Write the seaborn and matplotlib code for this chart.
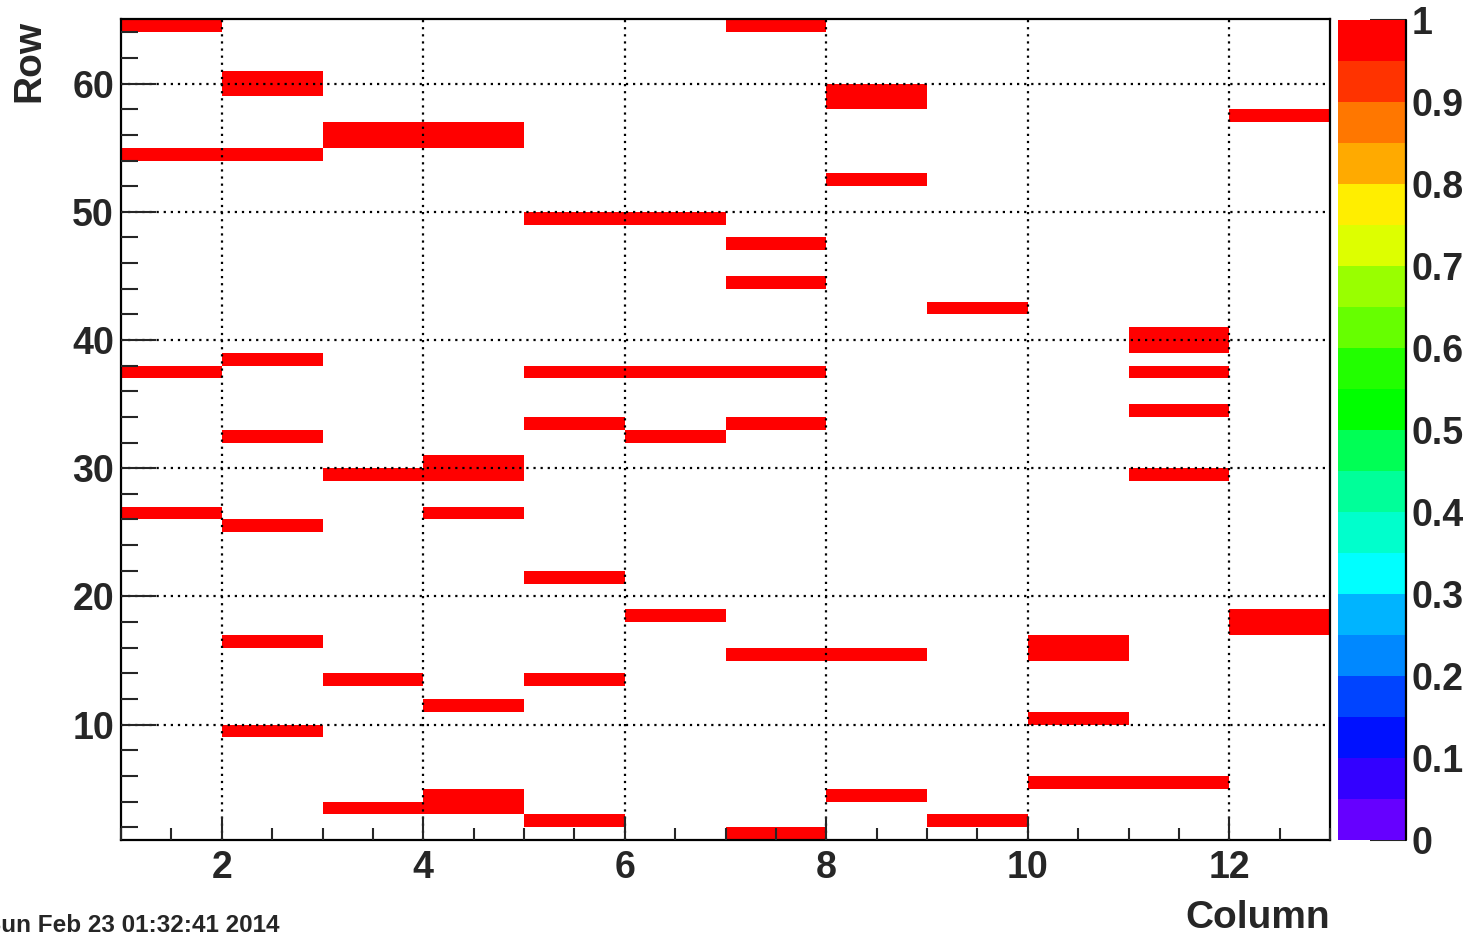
import numpy as np
import pandas as pd
import matplotlib
matplotlib.use("Agg")
import matplotlib.pyplot as plt
from matplotlib.colors import ListedColormap
from matplotlib.ticker import MultipleLocator, FixedLocator
import seaborn as sns

# Treffer je Spalte (Column) -> Liste der Zeilen (Row), alle mit Inhalt 1
hit_col_1 = [64, 54, 37, 26]
hit_col_2 = [60, 59, 54, 38, 32, 25, 16, 9]
hit_col_3 = [56, 55, 29, 13, 3]
hit_col_4 = [56, 55, 30, 29, 26, 11, 4, 3]
hit_col_5 = [49, 37, 33, 21, 13, 2]
hit_col_6 = [49, 37, 32, 18]
hit_col_7 = [64, 47, 44, 37, 33, 15, 1]
hit_col_8 = [59, 58, 52, 15, 4]
hit_col_9 = [42, 2]
hit_col_10 = [16, 15, 10, 5]
hit_col_11 = [40, 39, 37, 34, 29, 5]
hit_col_12 = [57, 18, 17]
hits = [hit_col_1, hit_col_2, hit_col_3, hit_col_4, hit_col_5, hit_col_6,
        hit_col_7, hit_col_8, hit_col_9, hit_col_10, hit_col_11, hit_col_12]

columns = list(range(1, 13))   # Bin-Untergrenzen 1..12
rows = list(range(1, 65))      # Bin-Untergrenzen 1..64
x_labels = [2, 4, 6, 8, 10, 12]
y_labels = [10, 20, 30, 40, 50, 60]
z_ticks = [0, 0.1, 0.2, 0.3, 0.4, 0.5, 0.6, 0.7, 0.8, 0.9, 1]
date_text = "Sun Feb 23 01:32:41 2014"

# ROOT Palette mit 20 Konturen (unten -> oben)
palette = ["#6600ff", "#3300ff", "#0011ff", "#0044ff", "#0088ff",
           "#00b4ff", "#00ffff", "#00ffcc", "#00ff99", "#00ff55",
           "#00ff00", "#22ff00", "#66ff00", "#99ff00", "#ddff00",
           "#ffee00", "#ffaa00", "#ff7700", "#ff3300", "#ff0000"]

# Matrix aufbauen
mat = pd.DataFrame(np.nan, index=rows, columns=columns)
for c, rr in zip(columns, hits):
    for r in rr:
        mat.loc[r, c] = 1.0

sns.set_style("white")
plt.rcParams["font.family"] = ["Liberation Sans", "DejaVu Sans"]
plt.rcParams["font.weight"] = "bold"

fig = plt.figure(figsize=(14.74, 9.38), dpi=100)
ax = fig.add_axes([121 / 1474, 1 - 840 / 938, 1209 / 1474, 820.5 / 938])
cax = fig.add_axes([1338 / 1474, 1 - 840 / 938, 68 / 1474, 820 / 938])

sns.heatmap(mat, ax=ax, cbar_ax=cax, cmap=ListedColormap(palette),
            vmin=0, vmax=1, xticklabels=False, yticklabels=False)
ax.set_ylim(0, 64)
ax.set_xlim(0, 12)

# Achsen im ROOT-Stil
for sp in ax.spines.values():
    sp.set_visible(True)
    sp.set_linewidth(1.6)
    sp.set_color("black")

ax.xaxis.set_major_locator(FixedLocator([v - 1 for v in x_labels]))
ax.set_xticklabels([str(v) for v in x_labels])
ax.xaxis.set_minor_locator(MultipleLocator(0.5))
ax.yaxis.set_major_locator(FixedLocator([v - 1 for v in y_labels]))
ax.set_yticklabels([str(v) for v in y_labels], rotation=0)
ax.yaxis.set_minor_locator(FixedLocator([v - 1 for v in range(2, 65, 2)]))

ax.tick_params(axis="x", which="major", direction="in", length=16.5, width=1.5,
               labelsize=27, pad=7, bottom=True, top=False)
ax.tick_params(axis="x", which="minor", direction="in", length=8.5, width=1.5,
               bottom=True, top=False)
ax.tick_params(axis="y", which="major", direction="in", length=25, width=1.5,
               labelsize=27, pad=5, left=True, right=False)
ax.tick_params(axis="y", which="minor", direction="in", length=12.5, width=1.5,
               left=True, right=False)

ax.set_axisbelow(False)
ax.grid(True, which="major", color="black", linestyle=(0, (1, 2.2)), linewidth=1.6)

ax.set_xlabel("Column", loc="right", fontsize=28, fontweight="bold", labelpad=10)
ax.set_ylabel("Row", loc="top", fontsize=28, fontweight="bold", labelpad=18)

# Farbskala
cbar = ax.collections[0].colorbar
cbar.outline.set_visible(False)
cbar.set_ticks(z_ticks)
cbar.set_ticklabels([("%g" % v) for v in z_ticks])
cax.yaxis.set_ticks_position("right")
cax.tick_params(axis="y", which="major", direction="in", length=26, width=1.5,
                labelsize=27, pad=4, right=True, left=False)
cax.tick_params(axis="y", which="minor", length=0)
cax.axvline(1, color="black", linewidth=1.6, clip_on=False)

fig.text(-15 / 1474, 1 - 925 / 938, date_text, fontsize=17.5, fontweight="bold",
         ha="left", va="center")

fig.savefig("out.png", dpi=100)
